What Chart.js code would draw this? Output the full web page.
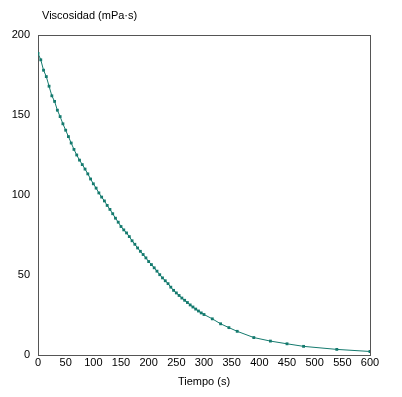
<!DOCTYPE html>
<html>
<head>
<meta charset="utf-8">
<script src="https://cdn.jsdelivr.net/npm/chart.js@4"></script>
<style>
  html, body { margin: 0; padding: 0; background: #fff; }
  #wrap { width: 402px; height: 397px; }
</style>
</head>
<body>
<div id="wrap"><canvas id="viscChart" width="402" height="397"></canvas></div>
<script>
// tiempo (s) y viscosidad (mPa·s)
const tiempo = [0, 5, 10, 15, 20, 25, 30, 35, 40, 45, 50, 55, 60, 65, 70, 75, 80, 85, 90, 95,
    100, 105, 110, 115, 120, 125, 130, 135, 140, 145, 150, 155, 160, 165, 170, 175, 180, 185, 190, 195,
    200, 205, 210, 215, 220, 225, 230, 235, 240, 245, 250, 255, 260, 265, 270, 275, 280, 285, 290, 295,
    300, 315, 330, 345, 360, 390, 420, 450, 480, 540, 600];
const viscosidad = [188.5, 184.5, 178, 174, 168, 162, 158.5, 153, 149, 144.5, 140.5, 136.5, 132.5, 128.5, 125, 121.8, 119, 116.2, 113.2, 110,
    107, 104.3, 101.3, 98.7, 96.3, 93.5, 91, 88.3, 85.5, 83, 80.3, 78.2, 76.3, 74, 71.4, 69.2, 66.9, 64.8, 62.8, 60.7,
    58.4, 56.5, 54.5, 52.4, 50.2, 48.2, 46.4, 44.6, 42.4, 40.4, 38.8, 37.2, 35.6, 34.2, 32.8, 31.3, 30, 28.7, 27.5, 26.3,
    25.3, 22.6, 19.5, 17.1, 14.8, 10.9, 8.7, 7.0, 5.4, 3.5, 2.2];
const xTicks = [0, 50, 100, 150, 200, 250, 300, 350, 400, 450, 500, 550, 600];
const yTicks = [0, 50, 100, 150, 200];

const lineColor = '#147a6e';
const axisColor = '#555555';
const fontFamily = '"Liberation Sans", Arial, sans-serif';

// marco completo alrededor del area de trazado + titulo del eje y
const framePlugin = {
    id: 'frame',
    beforeDatasetsDraw(chart) {
        const { ctx, chartArea } = chart;
        ctx.save();
        ctx.strokeStyle = axisColor;
        ctx.lineWidth = 1;
        ctx.strokeRect(Math.round(chartArea.left) + 0.5, Math.round(chartArea.top) + 0.5,
            Math.round(chartArea.right - chartArea.left), Math.round(chartArea.bottom - chartArea.top));
        ctx.fillStyle = '#000';
        ctx.font = '11px ' + fontFamily;
        ctx.textBaseline = 'middle';
        ctx.textAlign = 'left';
        ctx.fillText('Viscosidad (mPa·s)', chartArea.left + 4, 16);
        ctx.restore();
    }
};

const ctx = document.getElementById('viscChart').getContext('2d');
const viscChart = new Chart(ctx, {
    type: 'line',
    data: {
        datasets: [{
            label: 'Viscosidad',
            data: tiempo.map((t, i) => ({ x: t, y: viscosidad[i] })),
            borderColor: lineColor,
            backgroundColor: lineColor,
            borderWidth: 1,
            pointStyle: 'rect',
            pointRadius: 2,
            pointBorderWidth: 0,
            tension: 0,
            fill: false
        }]
    },
    options: {
        responsive: false,
        animation: false,
        layout: { padding: { left: 0, right: 32, top: 35, bottom: 0 } },
        plugins: {
            legend: { display: false },
            tooltip: { enabled: false }
        },
        scales: {
            x: {
                type: 'linear',
                min: 0,
                max: 600,
                afterBuildTicks: s => { s.ticks = xTicks.map(v => ({ value: v })); },
                afterFit: s => { s.height = 42; },
                grid: { display: false, drawTicks: false },
                border: { display: false },
                ticks: { color: '#000', padding: 1, font: { family: fontFamily, size: 11 }, maxRotation: 0, autoSkip: false },
                title: {
                    display: true,
                    text: 'Tiempo (s)',
                    color: '#000',
                    font: { family: fontFamily, size: 11 },
                    padding: { top: 6, bottom: 8 }
                }
            },
            y: {
                min: 0,
                max: 200,
                afterBuildTicks: s => { s.ticks = yTicks.map(v => ({ value: v })); },
                afterFit: s => { s.width = 38; },
                grid: { display: false, drawTicks: false },
                border: { display: false },
                ticks: { color: '#000', padding: 8, font: { family: fontFamily, size: 11 } }
            }
        }
    },
    plugins: [framePlugin]
});
</script>
</body>
</html>
